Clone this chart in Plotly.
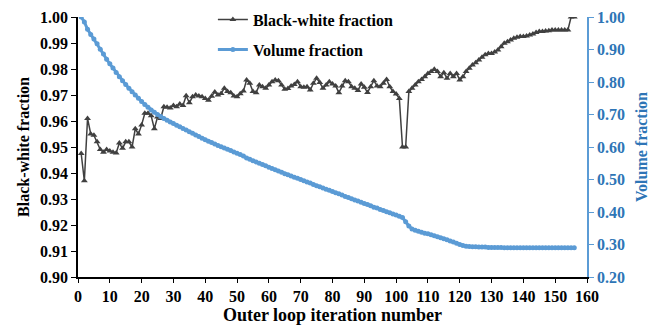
import plotly.graph_objects as go

iterations = list(range(1, 157))

black_white = [
    0.9475, 0.937, 0.961, 0.955, 0.9545, 0.952, 0.949, 0.948, 0.949, 0.9485,
    0.948, 0.9477, 0.9515, 0.9495, 0.952, 0.952, 0.950, 0.957, 0.955, 0.9585,
    0.963, 0.963, 0.962, 0.957, 0.9615, 0.961, 0.9655, 0.9653, 0.965, 0.966,
    0.9655, 0.9665, 0.966, 0.9697, 0.967, 0.9693, 0.970, 0.9696, 0.9693, 0.9687,
    0.968, 0.9695, 0.9712, 0.970, 0.9706, 0.9726, 0.9713, 0.9709, 0.9696, 0.9693,
    0.9705, 0.9715, 0.9758, 0.9745, 0.9713, 0.9709, 0.9738, 0.9732, 0.9726, 0.9738,
    0.9751, 0.9758, 0.9755, 0.9738, 0.9722, 0.9725, 0.9735, 0.974, 0.9751, 0.9732,
    0.973, 0.9732, 0.9719, 0.9745, 0.9764, 0.9748, 0.9726, 0.9738, 0.9751, 0.9742,
    0.9735, 0.9709, 0.9735, 0.9755, 0.9751, 0.9732, 0.9726, 0.9717, 0.9742, 0.973,
    0.971, 0.9732, 0.9755, 0.9735, 0.9732, 0.9745, 0.976, 0.9732, 0.9713, 0.9704,
    0.9687, 0.950, 0.950, 0.9713, 0.9726, 0.9738, 0.9751, 0.976, 0.977, 0.9783,
    0.979, 0.9799, 0.979, 0.977, 0.9786, 0.9764, 0.9783, 0.977, 0.9783, 0.9758,
    0.977, 0.979, 0.9803, 0.9815, 0.9824, 0.9835, 0.9845, 0.9855, 0.986, 0.986,
    0.9865, 0.9873, 0.9886, 0.9899, 0.9905, 0.9912, 0.9918, 0.9922, 0.9925, 0.9925,
    0.9927, 0.9931, 0.9935, 0.994, 0.9944, 0.9944, 0.9946, 0.9947, 0.995, 0.995,
    0.995, 0.995, 0.995, 0.995, 1.000, 1.000,
]

volume = [
    1.000, 0.985, 0.962, 0.946, 0.932, 0.918, 0.901, 0.886, 0.870, 0.856,
    0.843, 0.829, 0.816, 0.804, 0.792, 0.781, 0.770, 0.760, 0.750, 0.740,
    0.731, 0.722, 0.714, 0.707, 0.700, 0.694, 0.688, 0.682, 0.677, 0.672,
    0.667, 0.662, 0.657, 0.652, 0.647, 0.642, 0.637, 0.632, 0.627, 0.622,
    0.618, 0.614, 0.609, 0.605, 0.601, 0.597, 0.593, 0.589, 0.585, 0.581,
    0.577, 0.572, 0.566, 0.562, 0.558, 0.554, 0.550, 0.546, 0.542, 0.538,
    0.534, 0.530, 0.526, 0.522, 0.518, 0.515, 0.511, 0.507, 0.504, 0.500,
    0.496, 0.492, 0.489, 0.485, 0.481, 0.478, 0.474, 0.470, 0.467, 0.463,
    0.459, 0.456, 0.452, 0.448, 0.445, 0.441, 0.437, 0.434, 0.430, 0.426,
    0.423, 0.419, 0.415, 0.412, 0.408, 0.405, 0.401, 0.398, 0.394, 0.391,
    0.387, 0.383, 0.370, 0.357, 0.348, 0.344, 0.341, 0.338, 0.335, 0.333,
    0.330, 0.327, 0.324, 0.321, 0.318, 0.315, 0.311, 0.308, 0.304, 0.300,
    0.297, 0.295, 0.294, 0.293, 0.293, 0.292, 0.292, 0.292, 0.291, 0.291,
    0.291, 0.291, 0.291, 0.290, 0.290, 0.290, 0.290, 0.290, 0.290, 0.290,
    0.290, 0.290, 0.290, 0.290, 0.290, 0.290, 0.290, 0.290, 0.290, 0.290,
    0.290, 0.290, 0.290, 0.290, 0.290, 0.290,
]

FONT = "Liberation Serif"
BLUE_LINE = "#5b9bd5"
BLUE_TEXT = "#2e75b6"
DARK = "#404040"

fig = go.Figure()
fig.add_trace(go.Scatter(
    x=iterations, y=black_white, name="<b>Black-white fraction</b>",
    mode="lines+markers", legendgroup="a",
    line=dict(color=DARK, width=1.5),
    marker=dict(symbol="triangle-up", size=6, color=DARK),
    yaxis="y",
))
fig.add_trace(go.Scatter(
    x=iterations, y=volume, name="<b>Volume fraction</b>",
    mode="lines+markers", legendgroup="b",
    line=dict(color=BLUE_LINE, width=3),
    marker=dict(symbol="circle", size=5, color=BLUE_LINE),
    yaxis="y2",
))

fig.update_layout(
    width=659, height=325,
    margin=dict(l=78, r=72, t=17, b=48, autoexpand=False),
    paper_bgcolor="white", plot_bgcolor="white",
    font=dict(family=FONT, size=16, color="black"),
    showlegend=True,
    legend=dict(x=0.265, y=1.055, xanchor="left", yanchor="top",
                bgcolor="rgba(0,0,0,0)", font=dict(family=FONT, size=16, color="black"),
                tracegroupgap=6, itemwidth=30),
    xaxis=dict(
        range=[0, 160], dtick=10, tick0=0, automargin=False,
        showline=True, linecolor="black", linewidth=1.5,
        ticks="outside", ticklen=4, tickcolor="black",
        showgrid=False, zeroline=False,
        tickfont=dict(family=FONT, size=16, color="black"),
        title=dict(text="<b>Outer loop iteration number</b>", standoff=3,
                   font=dict(family=FONT, size=18, color="black")),
    ),
    yaxis=dict(
        range=[0.90, 1.00], dtick=0.01, tickformat=".2f", automargin=False,
        showline=True, linecolor="black", linewidth=1.5,
        ticks="outside", ticklen=5, tickcolor="black",
        showgrid=False, zeroline=False,
        tickfont=dict(family=FONT, size=16, color="black"),
        title=dict(text="<b>Black-white fraction</b>", standoff=6,
                   font=dict(family=FONT, size=16, color="black")),
    ),
    yaxis2=dict(
        range=[0.20, 1.00], dtick=0.1, tickformat=".2f", automargin=False,
        overlaying="y", side="right",
        showline=True, linecolor=BLUE_LINE, linewidth=1.5,
        ticks="outside", ticklen=5, tickcolor=BLUE_LINE,
        showgrid=False, zeroline=False,
        tickfont=dict(family=FONT, size=16, color=BLUE_TEXT),
        title=dict(text="<b>Volume fraction</b>", standoff=12,
                   font=dict(family=FONT, size=16, color=BLUE_TEXT)),
    ),
)
fig.update_xaxes(tickprefix="<b>", ticksuffix="</b>")
fig.update_yaxes(tickprefix="<b>", ticksuffix="</b>")
fig.layout.yaxis2.tickprefix = "<b>"
fig.layout.yaxis2.ticksuffix = "</b>"

fig.write_html("out.html")
